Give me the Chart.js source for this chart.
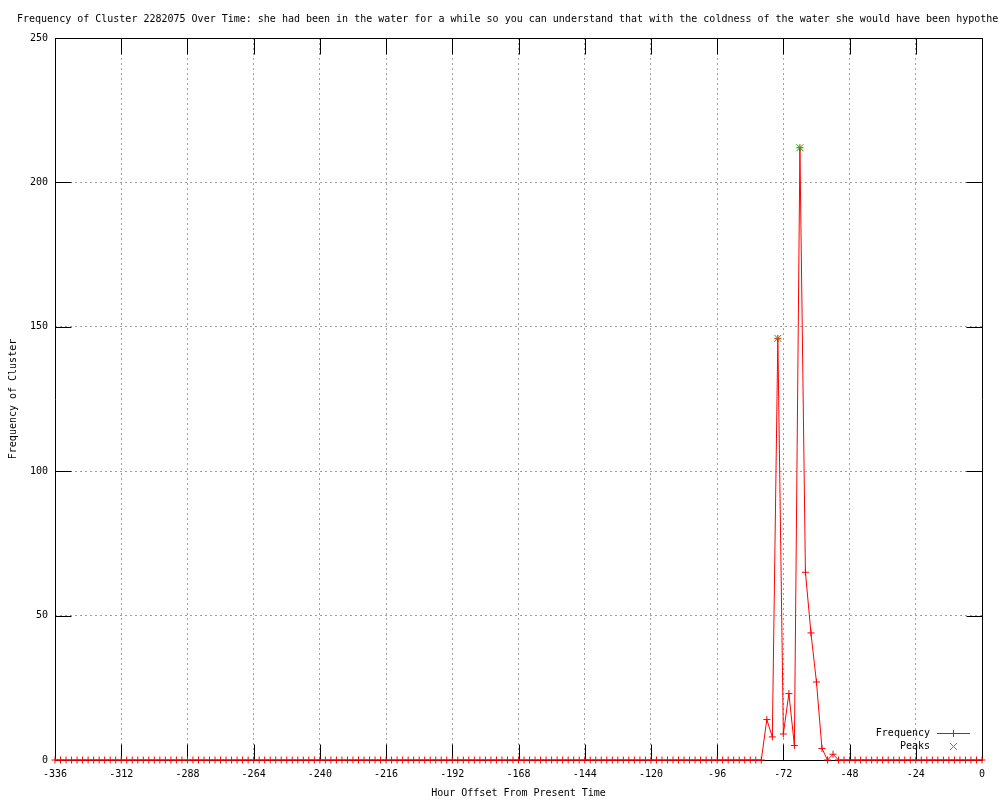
<!DOCTYPE html>
<html>
<head>
<meta charset="utf-8">
<title>Frequency of Cluster 2282075 Over Time</title>
<script src="https://cdn.jsdelivr.net/npm/chart.js@4/dist/chart.umd.min.js"></script>
<style>
	html, body { margin: 0; padding: 0; background: #fff; }
</style>
</head>
<body>
<canvas id="freqCanvas" width="1000" height="800"></canvas>
<script>
var chartTitle = "Frequency of Cluster 2282075 Over Time: she had been in the water for a while so you can understand that with the coldness of the water she would have been hypother";
var xAxisTitle = "Hour Offset From Present Time";
var yAxisTitle = "Frequency of Cluster";

// one bin every 2 hours, starting 336 hours back
var firstHour = -336;
var binHours = 2;
var frequency = [
	0, 0, 0, 0, 0, 0, 0, 0, 0, 0, 0, 0, 0, 0, 0, 0, 0, 0, 0, 0, 0, 0, 0, 0,
	0, 0, 0, 0, 0, 0, 0, 0, 0, 0, 0, 0, 0, 0, 0, 0, 0, 0, 0, 0, 0, 0, 0, 0,
	0, 0, 0, 0, 0, 0, 0, 0, 0, 0, 0, 0, 0, 0, 0, 0, 0, 0, 0, 0, 0, 0, 0, 0,
	0, 0, 0, 0, 0, 0, 0, 0, 0, 0, 0, 0, 0, 0, 0, 0, 0, 0, 0, 0, 0, 0, 0, 0,
	0, 0, 0, 0, 0, 0, 0, 0, 0, 0, 0, 0, 0, 0, 0, 0, 0, 0, 0, 0, 0, 0, 0, 0,
	0, 0, 0, 0, 0, 0, 0, 0, 0, 14, 8, 146, 9, 23, 5, 212, 65, 44, 27, 4, 0, 2, 0, 0,
	0, 0, 0, 0, 0, 0, 0, 0, 0, 0, 0, 0, 0, 0, 0, 0, 0, 0, 0, 0, 0, 0, 0, 0, 0
];

var peakHours = [-74, -66];
var peakValues = [146, 212];

var xTickValues = [-336, -312, -288, -264, -240, -216, -192, -168, -144, -120, -96, -72, -48, -24, 0];
var yTickValues = [0, 50, 100, 150, 200, 250];

var seriesLabels = ["Frequency", "Peaks"];
var seriesColors = ["#ff0000", "#00c000"];
var seriesMarks = ["cross", "crossRot"];
var monoFont = "'DejaVu Sans Mono', 'Liberation Mono', monospace";
var tickLen = 16;

function $each(arr, fn){
	for (var i = 0; i < arr.length; i++) { fn(i, arr[i]); }
}

// build the point lists for the two datasets
var freqPoints = [];
$each(frequency, function(i, f){
	freqPoints.push({ x: firstHour + i * binHours, y: f });
});
var peakPoints = [];
$each(peakHours, function(i, h){
	peakPoints.push({ x: h, y: peakValues[i] });
});

// frame, inward tick marks and title, like gnuplot
var gnuplotFrame = {
	id: "gnuplotFrame",
	beforeDatasetsDraw: function(chart){
		var ctx = chart.ctx;
		var a = chart.chartArea;
		var xs = chart.scales.x;
		var ys = chart.scales.y;
		var l = Math.round(a.left) + 0.5, r = Math.round(a.right) + 0.5;
		var t = Math.round(a.top) + 0.5, b = Math.round(a.bottom) + 0.5;
		ctx.save();
		ctx.setLineDash([]);
		ctx.strokeStyle = "#000";
		ctx.lineWidth = 1;
		ctx.beginPath();
		ctx.rect(l, t, r - l, b - t);
		$each(xs.ticks, function(i, tk){
			var px = Math.round(xs.getPixelForValue(tk.value)) + 0.5;
			ctx.moveTo(px, b); ctx.lineTo(px, b - tickLen);
			ctx.moveTo(px, t); ctx.lineTo(px, t + tickLen);
		});
		$each(ys.ticks, function(i, tk){
			var py = Math.round(ys.getPixelForValue(tk.value)) + 0.5;
			ctx.moveTo(l, py); ctx.lineTo(l + tickLen, py);
			ctx.moveTo(r, py); ctx.lineTo(r - tickLen, py);
		});
		ctx.stroke();

		ctx.fillStyle = "#000";
		ctx.font = "10px " + monoFont;
		ctx.textBaseline = "middle";
		ctx.textAlign = "left";
		ctx.fillText(chartTitle, 17, 19);
		ctx.restore();
	}
};

// key in the lower right corner
var gnuplotKey = {
	id: "gnuplotKey",
	afterDraw: function(chart){
		var c = chart.ctx;
		var keyX = 930, keyY = 733;
		c.save();
		c.setLineDash([]);
		c.font = "10px " + monoFont;
		c.textBaseline = "middle";
		c.textAlign = "right";
		$each(seriesLabels, function(i, lbl){
			var y = keyY + i * 13;
			c.fillStyle = "#000";
			c.fillText(lbl, keyX, y);
			c.strokeStyle = seriesColors[i];
			c.lineWidth = 1;
			c.beginPath();
			if (i == 0) {
				c.moveTo(937, y + 0.5); c.lineTo(970, y + 0.5);
				c.moveTo(953.5, y - 3); c.lineTo(953.5, y + 4);
			} else {
				c.moveTo(950, y - 3); c.lineTo(957, y + 4);
				c.moveTo(950, y + 4); c.lineTo(957, y - 3);
			}
			c.stroke();
		});
		c.restore();
	}
};

var ctx = document.getElementById("freqCanvas");
var freqChart = new Chart(ctx, {
	type: "line",
	data: {
		datasets: [
			{
				label: seriesLabels[0],
				data: freqPoints,
				borderColor: seriesColors[0],
				backgroundColor: seriesColors[0],
				borderWidth: 1,
				pointStyle: seriesMarks[0],
				pointRadius: 3.5,
				pointBorderWidth: 1,
				tension: 0,
				clip: false,
				order: 1
			},
			{
				label: seriesLabels[1],
				data: peakPoints,
				showLine: false,
				borderColor: seriesColors[1],
				backgroundColor: seriesColors[1],
				pointStyle: seriesMarks[1],
				pointRadius: 5,
				pointBorderWidth: 1,
				clip: false,
				order: 0
			}
		]
	},
	options: {
		responsive: false,
		animation: false,
		devicePixelRatio: 1,
		layout: { padding: { left: 0, top: 38, right: 18, bottom: 0 } },
		plugins: {
			legend: { display: false },
			title: { display: false },
			tooltip: { enabled: false }
		},
		scales: {
			x: {
				type: "linear",
				min: -336,
				max: 0,
				afterBuildTicks: function(scale){
					scale.ticks = xTickValues.map(function(v){ return { value: v }; });
				},
				afterFit: function(scale){ scale.height = 40; },
				grid: { color: "#a0a0a0", drawTicks: false, lineWidth: 1 },
				border: { display: false, dash: [2, 3] },
				ticks: { color: "#000", font: { family: monoFont, size: 10 }, padding: 8, maxRotation: 0, autoSkip: false },
				title: { display: true, text: xAxisTitle, color: "#000", font: { family: monoFont, size: 10 }, padding: { top: 0, bottom: 1 } }
			},
			y: {
				type: "linear",
				min: 0,
				max: 250,
				afterBuildTicks: function(scale){
					scale.ticks = yTickValues.map(function(v){ return { value: v }; });
				},
				afterFit: function(scale){ scale.width = 55; },
				grid: { color: "#a0a0a0", drawTicks: false, lineWidth: 1 },
				border: { display: false, dash: [2, 3] },
				ticks: { color: "#000", font: { family: monoFont, size: 10 }, padding: 7 },
				title: { display: true, text: yAxisTitle, color: "#000", font: { family: monoFont, size: 10 }, padding: { top: 7, bottom: 0 } }
			}
		}
	},
	plugins: [gnuplotFrame, gnuplotKey]
});
</script>
</body>
</html>
